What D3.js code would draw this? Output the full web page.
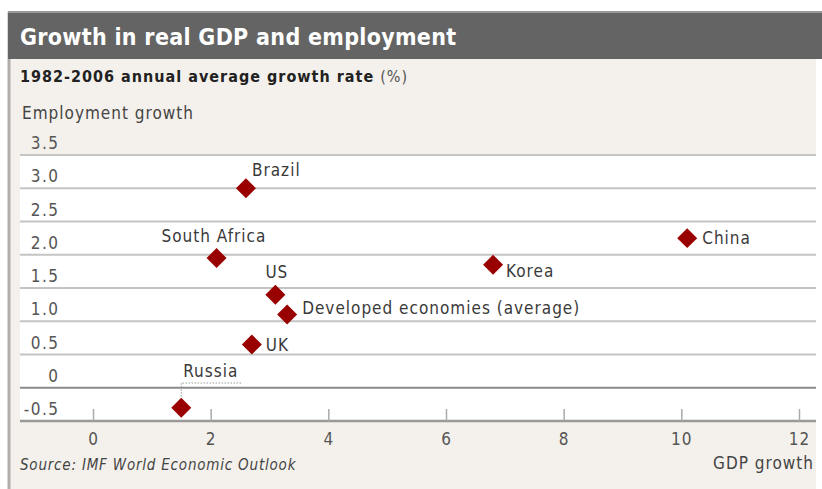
<!DOCTYPE html>
<html>
<head>
<meta charset="utf-8">
<script src="https://cdn.jsdelivr.net/npm/d3@7"></script>
<style>
  body { margin: 0; background: #fff; }
  svg { display: block; }
  text { font-family: "DejaVu Sans Condensed", "DejaVu Sans", sans-serif; fill: #3a3a3a; }
</style>
</head>
<body>
<svg id="chart" width="822" height="489"></svg>
<script>
// data
const countries = ["Brazil", "South Africa", "US", "Developed economies (average)", "UK", "Russia", "China", "Korea"];
const gdpGrowth = [2.6, 2.1, 3.1, 3.3, 2.7, 1.5, 10.1, 6.8];
const empGrowth = [3.0, 1.95, 1.4, 1.1, 0.65, -0.3, 2.25, 1.85];
const xTicks = [0, 2, 4, 6, 8, 10, 12];
const yTicks = [-0.5, 0, 0.5, 1.0, 1.5, 2.0, 2.5, 3.0, 3.5];

// label offset from its diamond: [dx, dy]
const labelOffset = {
  "Brazil": [6, -12],
  "South Africa": [-55, -16],
  "US": [-10, -17],
  "Developed economies (average)": [15, -1],
  "UK": [14, 6],
  "Russia": [2, -31],
  "China": [15, 6],
  "Korea": [13, 12]
};

const svg = d3.select("#chart");

// frame
svg.append("rect").attr("x", 8).attr("y", 12).attr("width", 808).attr("height", 477).attr("fill", "#f4f1ec");
svg.append("line").attr("x1", 9).attr("x2", 9).attr("y1", 12).attr("y2", 489).attr("stroke", "#b0aeab").attr("stroke-width", 3);
svg.append("rect").attr("x", 8).attr("y", 12).attr("width", 814).attr("height", 47).attr("fill", "#646464");
svg.append("line").attr("x1", 8).attr("x2", 822).attr("y1", 12).attr("y2", 12).attr("stroke", "#9a9a9a").attr("stroke-width", 2);

svg.append("text").attr("x", 20).attr("y", 45)
  .style("fill", "#fff").style("font-size", "23px").style("font-weight", "bold").style("letter-spacing", "0.3px")
  .text("Growth in real GDP and employment");

const sub = svg.append("text").attr("x", 20).attr("y", 82).style("font-size", "16px").style("letter-spacing", "1px");
sub.append("tspan").style("font-weight", "bold").style("fill", "#222").text("1982-2006 annual average growth rate ");
sub.append("tspan").style("fill", "#555").text("(%)");

svg.append("text").attr("x", 22).attr("y", 119).style("font-size", "17px").style("letter-spacing", "1px").style("fill", "#444")
  .text("Employment growth");

const x = d3.scaleLinear().domain([0, 12]).range([93, 799]);
const y = d3.scaleLinear().domain([-0.5, 3.5]).range([421, 155]);

// plot area
svg.append("rect").attr("x", 20).attr("y", y(3.5)).attr("width", 796).attr("height", y(-0.5) - y(3.5)).attr("fill", "#fff");

// gridlines with labels above them
const grid = svg.append("g");
grid.selectAll("line").data(yTicks).join("line")
  .attr("x1", 20).attr("x2", 816)
  .attr("y1", d => y(d)).attr("y2", d => y(d))
  .attr("stroke", d => d === 0 ? "#8a8a8a" : (d === -0.5 ? "#999" : "#c4c4c4"))
  .attr("stroke-width", d => d === -0.5 ? 2.5 : 2);
grid.selectAll("text").data(yTicks).join("text")
  .attr("x", 59.5).attr("y", d => y(d) - 6)
  .attr("text-anchor", "end")
  .style("font-size", "17px").style("letter-spacing", "1.5px").style("fill", "#555")
  .text(d => d === 0 ? "0" : (d < 0 ? "-" + Math.abs(d).toFixed(1) : d.toFixed(1)));

// x axis
const xAxis = d3.axisBottom(x).tickValues(xTicks).tickSize(0).tickPadding(12).tickFormat(d3.format("d"));
const gx = svg.append("g").attr("transform", `translate(0,${y(-0.5)})`).call(xAxis);
gx.select(".domain").remove();
gx.selectAll(".tick text").style("font-size", "17px").style("fill", "#555").style("letter-spacing", "1px")
  .style("font-family", "\"DejaVu Sans Condensed\", sans-serif");
gx.selectAll(".tick").append("line").attr("y1", -12).attr("y2", 0).attr("stroke", "#aaa").attr("stroke-width", 1.5);

svg.append("text").attr("x", 814).attr("y", 469).attr("text-anchor", "end")
  .style("font-size", "17px").style("letter-spacing", "1px").style("fill", "#444").text("GDP growth");
svg.append("text").attr("x", 20).attr("y", 470)
  .style("font-size", "15px").style("font-style", "italic").style("letter-spacing", "0.8px").style("fill", "#444")
  .text("Source: IMF World Economic Outlook");

// Russia leader line
const ri = countries.indexOf("Russia");
svg.append("path")
  .attr("d", `M${x(gdpGrowth[ri])},${y(empGrowth[ri]) - 11}V383H242`)
  .attr("fill", "none").attr("stroke", "#999").attr("stroke-width", 1).attr("stroke-dasharray", "1.5,1.5");

// diamonds
const pts = countries.map((c, i) => ({ name: c, gx: gdpGrowth[i], ey: empGrowth[i] }));
svg.append("g").selectAll("path").data(pts).join("path")
  .attr("d", d3.symbol().type(d3.symbolSquare).size(200))
  .attr("transform", d => `translate(${x(d.gx)},${y(d.ey)}) rotate(45)`)
  .attr("fill", "#990000");

// labels
svg.append("g").selectAll("text").data(pts).join("text")
  .attr("x", d => x(d.gx) + labelOffset[d.name][0])
  .attr("y", d => y(d.ey) + labelOffset[d.name][1])
  .style("font-size", "17px").style("letter-spacing", "1px").style("fill", "#3a3a3a")
  .text(d => d.name);
</script>
</body>
</html>
